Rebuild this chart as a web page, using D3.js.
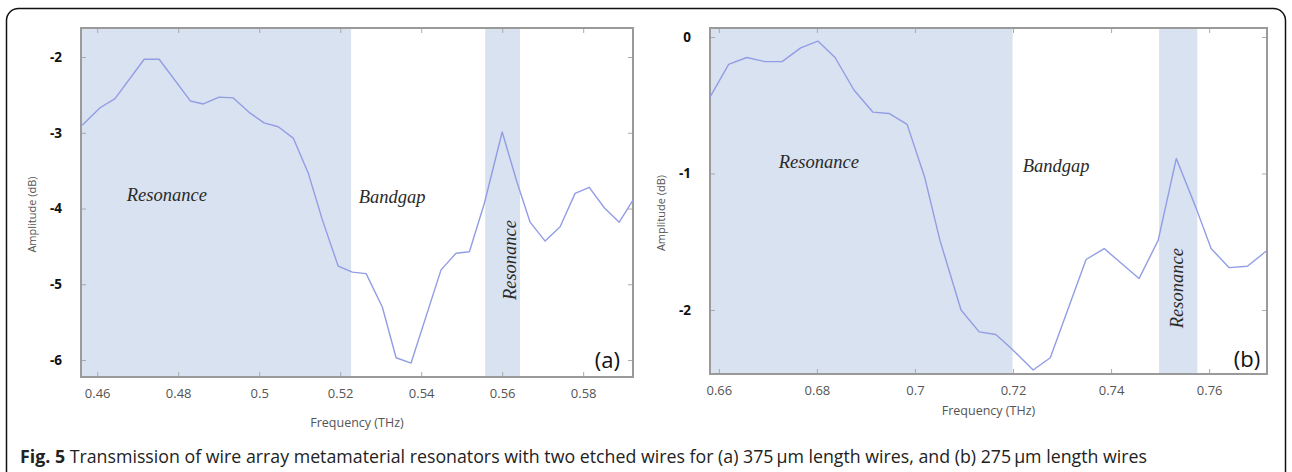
<!DOCTYPE html>
<html>
<head>
<meta charset="utf-8">
<script src="https://cdn.jsdelivr.net/npm/d3@7/dist/d3.min.js"></script>
<style>
  body { margin: 0; background: #fff; }
  svg { display: block; }
  .x-tick text { font-family: "Open Sans", sans-serif; font-size: 13px; fill: #555; }
  .y-tick text { font-family: "Open Sans", sans-serif; font-size: 13.5px; font-weight: bold; fill: #111; }
  .tick line { stroke: #aaa; stroke-width: 1; }
  .axis-title { font-family: "Open Sans", sans-serif; fill: #555; }
  .zone-label { font-family: "Liberation Serif", "Times New Roman", serif; font-style: italic; font-size: 18.5px; fill: #2a2a2a; }
  .panel-tag { font-family: "Open Sans", sans-serif; font-size: 22px; fill: #111; }
  .caption { font-family: "Open Sans", sans-serif; font-size: 18.5px; fill: #222; }
</style>
</head>
<body>
<svg id="chart" width="1292" height="472"></svg>
<script>
// ---- panel (a): 375 um wires ----
const freqA = [0.4563, 0.4607, 0.4644, 0.4716, 0.4753, 0.4830, 0.4862, 0.4901, 0.4936, 0.4975,
               0.5012, 0.5047, 0.5084, 0.5121, 0.5156, 0.5195, 0.5230, 0.5264, 0.5304, 0.5338,
               0.5375, 0.5449, 0.5486, 0.5519, 0.5556, 0.5600, 0.5637, 0.5669, 0.5706, 0.5743,
               0.5780, 0.5815, 0.5852, 0.5889, 0.5923];
const ampA  = [-2.90, -2.67, -2.55, -2.03, -2.03, -2.58, -2.62, -2.53, -2.54, -2.73,
               -2.87, -2.92, -3.07, -3.53, -4.15, -4.76, -4.84, -4.86, -5.30, -5.97,
               -6.04, -4.81, -4.59, -4.57, -3.93, -2.99, -3.66, -4.18, -4.43, -4.24,
               -3.80, -3.72, -3.99, -4.18, -3.89];
const xTicksA = [0.46, 0.48, 0.5, 0.52, 0.54, 0.56, 0.58];
const yTicksA = [-2, -3, -4, -5, -6];
const bandsA = [[0.4560, 0.5227], [0.5558, 0.5644]];

// ---- panel (b): 275 um wires ----
const freqB = [0.6582, 0.6620, 0.6657, 0.6694, 0.6729, 0.6767, 0.6802, 0.6837, 0.6876, 0.6914,
               0.6947, 0.6984, 0.7020, 0.7051, 0.7094, 0.7131, 0.7165, 0.7196, 0.7241, 0.7276,
               0.7349, 0.7386, 0.7457, 0.7496, 0.7533, 0.7573, 0.7604, 0.7641, 0.7678, 0.7716];
const ampB  = [-0.44, -0.20, -0.15, -0.18, -0.18, -0.08, -0.03, -0.15, -0.39, -0.55,
               -0.56, -0.64, -1.03, -1.49, -2.00, -2.16, -2.18, -2.28, -2.44, -2.35,
               -1.63, -1.55, -1.77, -1.49, -0.89, -1.25, -1.55, -1.69, -1.68, -1.57];
const xTicksB = [0.66, 0.68, 0.7, 0.72, 0.74, 0.76];
const yTicksB = [0, -1, -2];
const bandsB = [[0.6582, 0.7199], [0.7498, 0.7576]];

class TransmissionPlot {

  constructor(_config, _data) {
    this.config = {
      svg: _config.svg,
      left: _config.left,
      right: _config.right,
      top: _config.top,
      bottom: _config.bottom,
      xDomain: _config.xDomain,
      yDomain: _config.yDomain,
      xTicks: _config.xTicks,
      yTicks: _config.yTicks,
      titleGap: _config.titleGap || 48,
      tag: _config.tag,
      notes: _config.notes,
      tagAt: _config.tagAt
    };
    this.data = _data;
    this.initVis();
  }

  initVis() {
    let vis = this;
    const c = vis.config;

    vis.x = d3.scaleLinear().domain(c.xDomain).range([c.left, c.right]);
    vis.y = d3.scaleLinear().domain(c.yDomain).range([c.bottom, c.top]);

    vis.g = c.svg.append('g').attr('class', 'panel');

    // shaded resonance zones
    vis.g.selectAll('.band')
      .data(vis.data.bands)
      .join('rect')
        .attr('class', 'band')
        .attr('x', d => vis.x(d[0]))
        .attr('width', d => vis.x(d[1]) - vis.x(d[0]))
        .attr('y', c.top)
        .attr('height', c.bottom - c.top)
        .attr('fill', '#d9e2f0');

    // inward ticks on all four sides
    vis.g.append('g')
        .attr('class', 'x-tick')
        .attr('transform', `translate(0,${c.bottom})`)
        .call(d3.axisBottom(vis.x).tickValues(c.xTicks).tickSizeInner(-5).tickSizeOuter(0)
          .tickPadding(12).tickFormat(d => String(d)))
        .call(g => g.select('.domain').remove());

    vis.g.append('g')
        .attr('transform', `translate(0,${c.top})`)
        .call(d3.axisTop(vis.x).tickValues(c.xTicks).tickSizeInner(-5).tickSizeOuter(0).tickFormat(''))
        .call(g => g.select('.domain').remove());

    vis.g.append('g')
        .attr('class', 'y-tick')
        .attr('transform', `translate(${c.left},0)`)
        .call(d3.axisLeft(vis.y).tickValues(c.yTicks).tickSizeInner(-5).tickSizeOuter(0)
          .tickPadding(19).tickFormat(d => String(d)))
        .call(g => g.select('.domain').remove());

    vis.g.append('g')
        .attr('transform', `translate(${c.right},0)`)
        .call(d3.axisRight(vis.y).tickValues(c.yTicks).tickSizeInner(-5).tickSizeOuter(0).tickFormat(''))
        .call(g => g.select('.domain').remove());

    // d3 axis sets its own font attributes, let the css win
    vis.g.selectAll('.tick text').attr('font-size', null).attr('font-family', null);

    // frame
    vis.g.append('rect')
        .attr('x', c.left)
        .attr('y', c.top)
        .attr('width', c.right - c.left)
        .attr('height', c.bottom - c.top)
        .attr('fill', 'none')
        .attr('stroke', '#9a9a9a')
        .attr('stroke-width', 2);

    // axis titles
    vis.g.append('text')
        .attr('class', 'axis-title')
        .attr('x', (c.left + c.right) / 2)
        .attr('y', c.bottom + c.titleGap)
        .attr('text-anchor', 'middle')
        .attr('font-size', 12.5)
        .text('Frequency (THz)');

    vis.g.append('text')
        .attr('class', 'axis-title')
        .attr('transform', `translate(${c.left - 45},${(c.top + c.bottom) / 2 + 12}) rotate(-90)`)
        .attr('text-anchor', 'middle')
        .attr('font-size', 11)
        .text('Amplitude (dB)');

    vis.updateVis();
  }

  updateVis() {
    let vis = this;
    const c = vis.config;

    const line = d3.line()
        .x(d => vis.x(d[0]))
        .y(d => vis.y(d[1]));

    vis.g.append('path')
        .datum(d3.zip(vis.data.freq, vis.data.amp))
        .attr('d', line)
        .attr('fill', 'none')
        .attr('stroke', '#929de4')
        .attr('stroke-width', 1.4)
        .attr('stroke-linejoin', 'round');

    // zone annotations
    vis.g.selectAll('.zone-label')
      .data(c.notes)
      .join('text')
        .attr('class', 'zone-label')
        .attr('text-anchor', 'middle')
        .attr('transform', d => `translate(${vis.x(d.f)},${vis.y(d.a)})` + (d.rot ? ' rotate(-90)' : ''))
        .text(d => d.text);

    vis.g.append('text')
        .attr('class', 'panel-tag')
        .attr('text-anchor', 'end')
        .attr('x', vis.x(c.tagAt[0]))
        .attr('y', vis.y(c.tagAt[1]))
        .text(c.tag);
  }
}

const svg = d3.select('#chart');

// outer figure box
svg.append('rect')
    .attr('x', 6.5)
    .attr('y', 8.5)
    .attr('width', 1279)
    .attr('height', 490)
    .attr('rx', 12)
    .attr('fill', 'none')
    .attr('stroke', '#111')
    .attr('stroke-width', 1.5);

new TransmissionPlot({
  svg: svg,
  left: 81, right: 633, top: 28, bottom: 377,
  xDomain: [0.4560, 0.5923],
  yDomain: [-6.224, -1.617],
  xTicks: xTicksA,
  yTicks: yTicksA,
  titleGap: 50,
  tag: '(a)',
  tagAt: [0.5891, -6.11],
  notes: [
    {text: 'Resonance', f: 0.4772, a: -3.90},
    {text: 'Bandgap', f: 0.5328, a: -3.93},
    {text: 'Resonance', f: 0.5634, a: -4.68, rot: true}
  ]
}, {freq: freqA, amp: ampA, bands: bandsA});

new TransmissionPlot({
  svg: svg,
  left: 710, right: 1267, top: 28, bottom: 374,
  xDomain: [0.6582, 0.7718],
  yDomain: [-2.469, 0.066],
  xTicks: xTicksB,
  yTicks: yTicksB,
  titleGap: 41,
  tag: '(b)',
  tagAt: [0.7704, -2.42],
  notes: [
    {text: 'Resonance', f: 0.6804, a: -0.96},
    {text: 'Bandgap', f: 0.7288, a: -0.99},
    {text: 'Resonance', f: 0.7547, a: -1.84, rot: true}
  ]
}, {freq: freqB, amp: ampB, bands: bandsB});

// caption
const caption = svg.append('text')
    .attr('class', 'caption')
    .attr('x', 20)
    .attr('y', 463)
    .attr('textLength', 1127)
    .attr('lengthAdjust', 'spacingAndGlyphs');
caption.append('tspan').attr('font-weight', 'bold').text('Fig. 5');
caption.append('tspan').text(' Transmission of wire array metamaterial resonators with two etched wires for (a) 375\u2009\u00b5m length wires, and (b) 275\u2009\u00b5m length wires');
</script>
</body>
</html>
